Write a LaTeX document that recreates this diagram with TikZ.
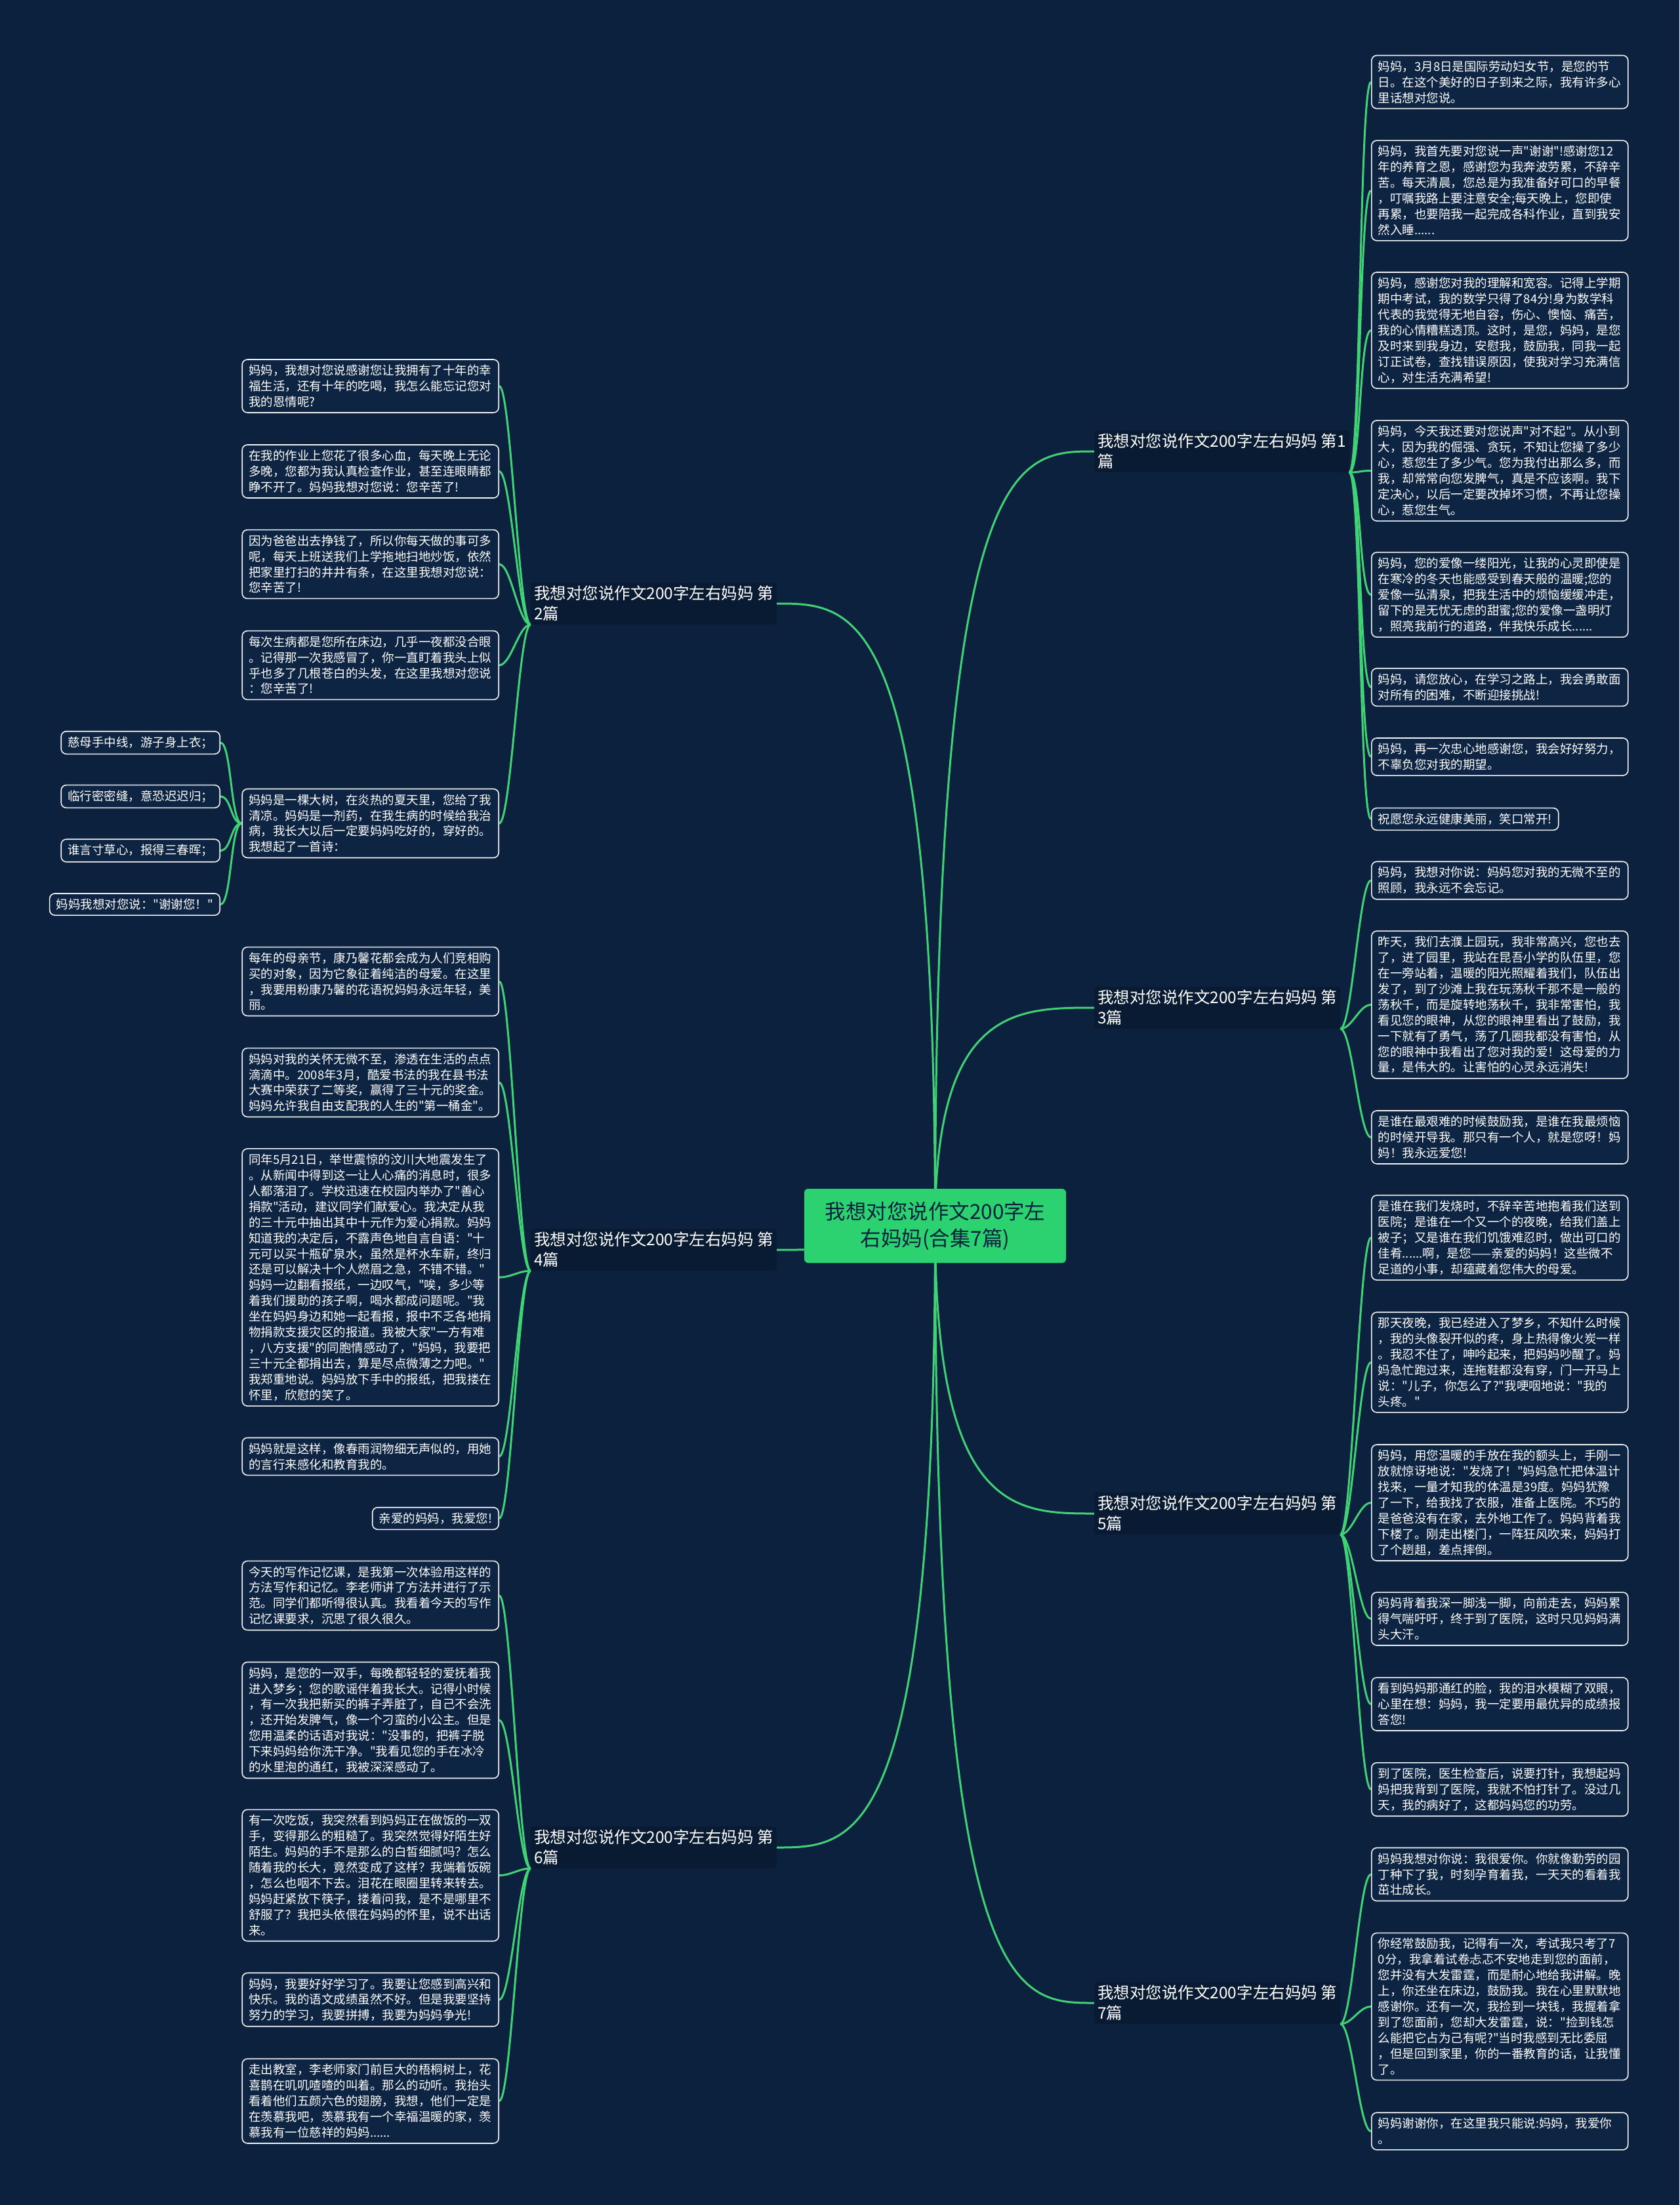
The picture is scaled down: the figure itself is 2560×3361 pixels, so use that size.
\documentclass[tikz,border=0pt]{standalone}
\usepackage{fontspec}
\newfontfamily\cjk{Noto Sans CJK SC}
\usepackage{tikz}
\usetikzlibrary{backgrounds}
\definecolor{bgnavy}{RGB}{12,33,62}
\definecolor{boxnavy}{RGB}{13,36,66}
\definecolor{branchnavy}{RGB}{9,27,50}
\definecolor{linkgreen}{RGB}{66,210,118}
\definecolor{rootgreen}{RGB}{44,210,112}
\tikzset{
  leaf/.style={draw=white!90!gray, line width=1.6pt, rounded corners=8pt,
    fill=boxnavy, text=white, align=left, inner xsep=10pt, inner ysep=8pt,
    font=\cjk\fontsize{18.5}{23.9}\selectfont},
  longleaf/.style={leaf, text width=371pt},
  branch/.style={fill=branchnavy, text=white, align=left, inner sep=5pt,
    rounded corners=3pt, font=\cjk\fontsize{24.5}{31}\selectfont},
  root/.style={fill=rootgreen, rounded corners=6pt, text=bgnavy, align=center,
    minimum width=399pt, minimum height=113pt,
    font=\cjk\fontsize{31.5}{41}\selectfont},
  link/.style={draw=linkgreen, line width=3pt}
}
\begin{document}
\begin{tikzpicture}[x=1pt,y=-1pt]
  %% root and branches
  \node[root] (root) at (1425.5,1868.5) {我想对您说作文200字左\\右妈妈(合集7篇)};
  \node[branch, anchor=west] (b1) at (1668,688) {我想对您说作文200字左右妈妈 第1\\篇};
  \node[branch, anchor=west] (b3) at (1668,1536) {我想对您说作文200字左右妈妈 第\\3篇};
  \node[branch, anchor=west] (b5) at (1668,2307) {我想对您说作文200字左右妈妈 第\\5篇};
  \node[branch, anchor=west] (b7) at (1668,3053) {我想对您说作文200字左右妈妈 第\\7篇};
  \node[branch, anchor=east] (b2) at (1184,920) {我想对您说作文200字左右妈妈 第\\2篇};
  \node[branch, anchor=east] (b4) at (1184,1905) {我想对您说作文200字左右妈妈 第\\4篇};
  \node[branch, anchor=east] (b6) at (1184,2816) {我想对您说作文200字左右妈妈 第\\6篇};

  %% part 1
  \node[longleaf, anchor=west] (r1a) at (2090,125) {妈妈，3月8日是国际劳动妇女节，是您的节\\日。在这个美好的日子到来之际，我有许多心\\里话想对您说。};
  \node[longleaf, anchor=west] (r1b) at (2090,290.5) {妈妈，我首先要对您说一声"谢谢"!感谢您12\\年的养育之恩，感谢您为我奔波劳累，不辞辛\\苦。每天清晨，您总是为我准备好可口的早餐\\，叮嘱我路上要注意安全;每天晚上，您即使\\再累，也要陪我一起完成各科作业，直到我安\\然入睡......};
  \node[longleaf, anchor=west] (r1c) at (2090,503.5) {妈妈，感谢您对我的理解和宽容。记得上学期\\期中考试，我的数学只得了84分!身为数学科\\代表的我觉得无地自容，伤心、懊恼、痛苦，\\我的心情糟糕透顶。这时，是您，妈妈，是您\\及时来到我身边，安慰我，鼓励我，同我一起\\订正试卷，查找错误原因，使我对学习充满信\\心，对生活充满希望!};
  \node[longleaf, anchor=west] (r1d) at (2090,717.5) {妈妈，今天我还要对您说声"对不起"。从小到\\大，因为我的倔强、贪玩，不知让您操了多少\\心，惹您生了多少气。您为我付出那么多，而\\我，却常常向您发脾气，真是不应该啊。我下\\定决心，以后一定要改掉坏习惯，不再让您操\\心，惹您生气。};
  \node[longleaf, anchor=west] (r1e) at (2090,906.5) {妈妈，您的爱像一缕阳光，让我的心灵即使是\\在寒冷的冬天也能感受到春天般的温暖;您的\\爱像一弘清泉，把我生活中的烦恼缓缓冲走，\\留下的是无忧无虑的甜蜜;您的爱像一盏明灯\\，照亮我前行的道路，伴我快乐成长......};
  \node[longleaf, anchor=west] (r1f) at (2090,1047.5) {妈妈，请您放心，在学习之路上，我会勇敢面\\对所有的困难，不断迎接挑战!};
  \node[longleaf, anchor=west] (r1g) at (2090,1153.5) {妈妈，再一次忠心地感谢您，我会好好努力，\\不辜负您对我的期望。};
  \node[leaf, anchor=west] (r1h) at (2090,1248.5) {祝愿您永远健康美丽，笑口常开!};

  %% part 3
  \node[longleaf, anchor=west] (r3a) at (2090,1342) {妈妈，我想对你说：妈妈您对我的无微不至的\\照顾，我永远不会忘记。};
  \node[longleaf, anchor=west] (r3b) at (2090,1531.5) {昨天，我们去濮上园玩，我非常高兴，您也去\\了，进了园里，我站在昆吾小学的队伍里，您\\在一旁站着，温暖的阳光照耀着我们，队伍出\\发了，到了沙滩上我在玩荡秋千那不是一般的\\荡秋千，而是旋转地荡秋千，我非常害怕，我\\看见您的眼神，从您的眼神里看出了鼓励，我\\一下就有了勇气，荡了几圈我都没有害怕，从\\您的眼神中我看出了您对我的爱！这母爱的力\\量，是伟大的。让害怕的心灵永远消失!};
  \node[longleaf, anchor=west] (r3c) at (2090,1733.5) {是谁在最艰难的时候鼓励我，是谁在我最烦恼\\的时候开导我。那只有一个人，就是您呀！妈\\妈！我永远爱您!};

  %% part 5
  \node[longleaf, anchor=west] (r5a) at (2090,1886.5) {是谁在我们发烧时，不辞辛苦地抱着我们送到\\医院；是谁在一个又一个的夜晚，给我们盖上\\被子；又是谁在我们饥饿难忍时，做出可口的\\佳肴......啊，是您——亲爱的妈妈！这些微不\\足道的小事，却蕴藏着您伟大的母爱。};
  \node[longleaf, anchor=west] (r5b) at (2090,2076.5) {那天夜晚，我已经进入了梦乡，不知什么时候\\，我的头像裂开似的疼，身上热得像火炭一样\\。我忍不住了，呻吟起来，把妈妈吵醒了。妈\\妈急忙跑过来，连拖鞋都没有穿，门一开马上\\说："儿子，你怎么了?"我哽咽地说："我的\\头疼。"};
  \node[longleaf, anchor=west] (r5c) at (2090,2290.5) {妈妈，用您温暖的手放在我的额头上，手刚一\\放就惊讶地说："发烧了！"妈妈急忙把体温计\\找来，一量才知我的体温是39度。妈妈犹豫\\了一下，给我找了衣服，准备上医院。不巧的\\是爸爸没有在家，去外地工作了。妈妈背着我\\下楼了。刚走出楼门，一阵狂风吹来，妈妈打\\了个趔趄，差点摔倒。};
  \node[longleaf, anchor=west] (r5d) at (2090,2467.5) {妈妈背着我深一脚浅一脚，向前走去，妈妈累\\得气喘吁吁，终于到了医院，这时只见妈妈满\\头大汗。};
  \node[longleaf, anchor=west] (r5e) at (2090,2597.5) {看到妈妈那通红的脸，我的泪水模糊了双眼，\\心里在想：妈妈，我一定要用最优异的成绩报\\答您!};
  \node[longleaf, anchor=west] (r5f) at (2090,2727.5) {到了医院，医生检查后，说要打针，我想起妈\\妈把我背到了医院，我就不怕打针了。没过几\\天，我的病好了，这都妈妈您的功劳。};

  %% part 7
  \node[longleaf, anchor=west] (r7a) at (2090,2857) {妈妈我想对你说：我很爱你。你就像勤劳的园\\丁种下了我，时刻孕育着我，一天天的看着我\\茁壮成长。};
  \node[longleaf, anchor=west] (r7b) at (2090,3058.5) {你经常鼓励我，记得有一次，考试我只考了7\\0分，我拿着试卷忐忑不安地走到您的面前，\\您并没有大发雷霆，而是耐心地给我讲解。晚\\上，你还坐在床边，鼓励我。我在心里默默地\\感谢你。还有一次，我捡到一块钱，我握着拿\\到了您面前，您却大发雷霆，说："捡到钱怎\\么能把它占为己有呢?"当时我感到无比委屈\\，但是回到家里，你的一番教育的话，让我懂\\了。};
  \node[longleaf, anchor=west] (r7c) at (2090,3248.5) {妈妈谢谢你，在这里我只能说:妈妈，我爱你\\。};

  %% part 2
  \node[longleaf, anchor=east] (l2a) at (761,588.5) {妈妈，我想对您说感谢您让我拥有了十年的幸\\福生活，还有十年的吃喝，我怎么能忘记您对\\我的恩情呢?};
  \node[longleaf, anchor=east] (l2b) at (761,718.5) {在我的作业上您花了很多心血，每天晚上无论\\多晚，您都为我认真检查作业，甚至连眼睛都\\睁不开了。妈妈我想对您说：您辛苦了!};
  \node[longleaf, anchor=east] (l2c) at (761,860) {因为爸爸出去挣钱了，所以你每天做的事可多\\呢，每天上班送我们上学拖地扫地炒饭，依然\\把家里打扫的井井有条，在这里我想对您说：\\您辛苦了!};
  \node[longleaf, anchor=east] (l2d) at (761,1014) {每次生病都是您所在床边，几乎一夜都没合眼\\。记得那一次我感冒了，你一直盯着我头上似\\乎也多了几根苍白的头发，在这里我想对您说\\：您辛苦了!};
  \node[longleaf, anchor=east] (l2e) at (761,1255) {妈妈是一棵大树，在炎热的夏天里，您给了我\\清凉。妈妈是一剂药，在我生病的时候给我治\\病，我长大以后一定要妈妈吃好的，穿好的。\\我想起了一首诗：};
  \node[leaf, anchor=east] (p1) at (336,1132) {慈母手中线，游子身上衣；};
  \node[leaf, anchor=east] (p2) at (336,1214) {临行密密缝，意恐迟迟归；};
  \node[leaf, anchor=east] (p3) at (336,1296.5) {谁言寸草心，报得三春晖；};
  \node[leaf, anchor=east] (p4) at (336,1378.5) {妈妈我想对您说："谢谢您！"};

  %% part 4
  \node[longleaf, anchor=east] (l4a) at (761,1496) {每年的母亲节，康乃馨花都会成为人们竞相购\\买的对象，因为它象征着纯洁的母爱。在这里\\，我要用粉康乃馨的花语祝妈妈永远年轻，美\\丽。};
  \node[longleaf, anchor=east] (l4b) at (761,1650) {妈妈对我的关怀无微不至，渗透在生活的点点\\滴滴中。2008年3月，酷爱书法的我在县书法\\大赛中荣获了二等奖，赢得了三十元的奖金。\\妈妈允许我自由支配我的人生的"第一桶金"。};
  \node[longleaf, anchor=east] (l4c) at (761,1947) {同年5月21日，举世震惊的汶川大地震发生了\\。从新闻中得到这一让人心痛的消息时，很多\\人都落泪了。学校迅速在校园内举办了"善心\\捐款"活动，建议同学们献爱心。我决定从我\\的三十元中抽出其中十元作为爱心捐款。妈妈\\知道我的决定后，不露声色地自言自语："十\\元可以买十瓶矿泉水，虽然是杯水车薪，终归\\还是可以解决十个人燃眉之急，不错不错。"\\妈妈一边翻看报纸，一边叹气，"唉，多少等\\着我们援助的孩子啊，喝水都成问题呢。"我\\坐在妈妈身边和她一起看报，报中不乏各地捐\\物捐款支援灾区的报道。我被大家"一方有难\\，八方支援"的同胞情感动了，"妈妈，我要把\\三十元全都捐出去，算是尽点微薄之力吧。"\\我郑重地说。妈妈放下手中的报纸，把我搂在\\怀里，欣慰的笑了。};
  \node[longleaf, anchor=east] (l4d) at (761,2220) {妈妈就是这样，像春雨润物细无声似的，用她\\的言行来感化和教育我的。};
  \node[leaf, anchor=east] (l4e) at (761,2314.5) {亲爱的妈妈，我爱您!};

  %% part 6
  \node[longleaf, anchor=east] (l6a) at (761,2432) {今天的写作记忆课，是我第一次体验用这样的\\方法写作和记忆。李老师讲了方法并进行了示\\范。同学们都听得很认真。我看着今天的写作\\记忆课要求，沉思了很久很久。};
  \node[longleaf, anchor=east] (l6b) at (761,2622) {妈妈，是您的一双手，每晚都轻轻的爱抚着我\\进入梦乡；您的歌谣伴着我长大。记得小时候\\，有一次我把新买的裤子弄脏了，自己不会洗\\，还开始发脾气，像一个刁蛮的小公主。但是\\您用温柔的话语对我说："没事的，把裤子脱\\下来妈妈给你洗干净。"我看见您的手在冰冷\\的水里泡的通红，我被深深感动了。};
  \node[longleaf, anchor=east] (l6c) at (761,2858.5) {有一次吃饭，我突然看到妈妈正在做饭的一双\\手，变得那么的粗糙了。我突然觉得好陌生好\\陌生。妈妈的手不是那么的白皙细腻吗？怎么\\随着我的长大，竟然变成了这样？我端着饭碗\\，怎么也咽不下去。泪花在眼圈里转来转去。\\妈妈赶紧放下筷子，搂着问我，是不是哪里不\\舒服了？我把头依偎在妈妈的怀里，说不出话\\来。};
  \node[longleaf, anchor=east] (l6d) at (761,3048) {妈妈，我要好好学习了。我要让您感到高兴和\\快乐。我的语文成绩虽然不好。但是我要坚持\\努力的学习，我要拼搏，我要为妈妈争光!};
  \node[longleaf, anchor=east] (l6e) at (761,3202.5) {走出教室，李老师家门前巨大的梧桐树上，花\\喜鹊在叽叽喳喳的叫着。那么的动听。我抬头\\看着他们五颜六色的翅膀，我想，他们一定是\\在羡慕我吧，羡慕我有一个幸福温暖的家，羡\\慕我有一位慈祥的妈妈......};

  \begin{pgfonlayer}{background}
    \fill[bgnavy] (0,0) rectangle (2560,3361);
    %% root to branches
    \foreach \b in {b1,b3,b5,b7}
      \draw[link] (root.center) .. controls (root.center |- \b.west) and +(-120,0) .. (\b.west);
    \foreach \b in {b2,b4,b6}
      \draw[link] (root.center) .. controls (root.center |- \b.east) and +(120,0) .. (\b.east);
    %% branches to leaves
    \foreach \l in {r1a,r1b,r1c,r1d,r1e,r1f,r1g,r1h}
      \draw[link] (b1.south east) .. controls +(18,0) and +(-18,0) .. (\l.west);
    \foreach \l in {r3a,r3b,r3c}
      \draw[link] (b3.south east) .. controls +(18,0) and +(-18,0) .. (\l.west);
    \foreach \l in {r5a,r5b,r5c,r5d,r5e,r5f}
      \draw[link] (b5.south east) .. controls +(18,0) and +(-18,0) .. (\l.west);
    \foreach \l in {r7a,r7b,r7c}
      \draw[link] (b7.south east) .. controls +(18,0) and +(-18,0) .. (\l.west);
    \foreach \l in {l2a,l2b,l2c,l2d,l2e}
      \draw[link] (b2.south west) .. controls +(-18,0) and +(18,0) .. (\l.east);
    \foreach \l in {l4a,l4b,l4c,l4d,l4e}
      \draw[link] (b4.south west) .. controls +(-18,0) and +(18,0) .. (\l.east);
    \foreach \l in {l6a,l6b,l6c,l6d,l6e}
      \draw[link] (b6.south west) .. controls +(-18,0) and +(18,0) .. (\l.east);
    \foreach \p in {p1,p2,p3,p4}
      \draw[link] (l2e.west) .. controls +(-17,0) and +(17,0) .. (\p.east);
  \end{pgfonlayer}
\end{tikzpicture}
\end{document}
